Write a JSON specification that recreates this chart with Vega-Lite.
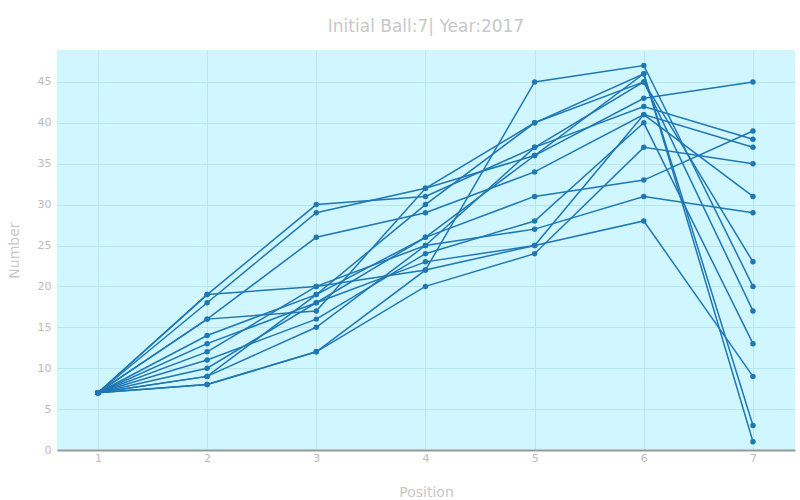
{
  "$schema": "https://vega.github.io/schema/vega-lite/v6.json",
  "autosize": "none",
  "width": 738,
  "height": 400,
  "padding": {"left": 57, "top": 50, "right": 5, "bottom": 50},
  "background": "white",
  "title": {"text": "Initial Ball:7| Year:2017", "color": "#c8c8c8", "fontSize": 17, "font": "DejaVu Sans", "fontWeight": "normal", "offset": 14},
  "config": {"view": {"fill": "#d0f7ff", "stroke": null}},
  "data": {"values": [
    {"s":"A","p":1,"v":7},{"s":"A","p":2,"v":19},{"s":"A","p":3,"v":30},{"s":"A","p":4,"v":31},{"s":"A","p":5,"v":37},{"s":"A","p":6,"v":42},{"s":"A","p":7,"v":38},
    {"s":"B","p":1,"v":7},{"s":"B","p":2,"v":18},{"s":"B","p":3,"v":29},{"s":"B","p":4,"v":32},{"s":"B","p":5,"v":36},{"s":"B","p":6,"v":46},{"s":"B","p":7,"v":3},
    {"s":"C","p":1,"v":7},{"s":"C","p":2,"v":16},{"s":"C","p":3,"v":17},{"s":"C","p":4,"v":32},{"s":"C","p":5,"v":40},{"s":"C","p":6,"v":45},{"s":"C","p":7,"v":23},
    {"s":"D","p":1,"v":7},{"s":"D","p":2,"v":19},{"s":"D","p":3,"v":20},{"s":"D","p":4,"v":22},{"s":"D","p":5,"v":45},{"s":"D","p":6,"v":47},{"s":"D","p":7,"v":20},
    {"s":"E","p":1,"v":7},{"s":"E","p":2,"v":16},{"s":"E","p":3,"v":26},{"s":"E","p":4,"v":29},{"s":"E","p":5,"v":34},{"s":"E","p":6,"v":41},{"s":"E","p":7,"v":37},
    {"s":"F","p":1,"v":7},{"s":"F","p":2,"v":14},{"s":"F","p":3,"v":19},{"s":"F","p":4,"v":30},{"s":"F","p":5,"v":40},{"s":"F","p":6,"v":46},{"s":"F","p":7,"v":1},
    {"s":"G","p":1,"v":7},{"s":"G","p":2,"v":13},{"s":"G","p":3,"v":18},{"s":"G","p":4,"v":26},{"s":"G","p":5,"v":31},{"s":"G","p":6,"v":33},{"s":"G","p":7,"v":39},
    {"s":"H","p":1,"v":7},{"s":"H","p":2,"v":12},{"s":"H","p":3,"v":20},{"s":"H","p":4,"v":25},{"s":"H","p":5,"v":27},{"s":"H","p":6,"v":31},{"s":"H","p":7,"v":29},
    {"s":"I","p":1,"v":7},{"s":"I","p":2,"v":11},{"s":"I","p":3,"v":16},{"s":"I","p":4,"v":24},{"s":"I","p":5,"v":28},{"s":"I","p":6,"v":40},{"s":"I","p":7,"v":13},
    {"s":"J","p":1,"v":7},{"s":"J","p":2,"v":10},{"s":"J","p":3,"v":18},{"s":"J","p":4,"v":23},{"s":"J","p":5,"v":25},{"s":"J","p":6,"v":28},{"s":"J","p":7,"v":9},
    {"s":"K","p":1,"v":7},{"s":"K","p":2,"v":9},{"s":"K","p":3,"v":15},{"s":"K","p":4,"v":25},{"s":"K","p":5,"v":37},{"s":"K","p":6,"v":45},{"s":"K","p":7,"v":17},
    {"s":"L","p":1,"v":7},{"s":"L","p":2,"v":8},{"s":"L","p":3,"v":12},{"s":"L","p":4,"v":20},{"s":"L","p":5,"v":24},{"s":"L","p":6,"v":37},{"s":"L","p":7,"v":35},
    {"s":"M","p":1,"v":7},{"s":"M","p":2,"v":9},{"s":"M","p":3,"v":19},{"s":"M","p":4,"v":26},{"s":"M","p":5,"v":36},{"s":"M","p":6,"v":43},{"s":"M","p":7,"v":45},
    {"s":"N","p":1,"v":7},{"s":"N","p":2,"v":8},{"s":"N","p":3,"v":12},{"s":"N","p":4,"v":22},{"s":"N","p":5,"v":25},{"s":"N","p":6,"v":41},{"s":"N","p":7,"v":31}
  ]},
  "mark": {"type": "line", "color": "#1f77b4", "strokeWidth": 1.5, "point": {"size": 30, "filled": true, "color": "#1f77b4", "opacity": 1}},
  "encoding": {
    "detail": {"field": "s"},
    "x": {"field": "p", "type": "quantitative", "title": "Position",
      "scale": {"domain": [0.625, 7.385], "nice": false, "zero": false},
      "axis": {"values": [1,2,3,4,5,6,7], "gridColor": "#b8e6ee", "domainColor": "#999999", "domainWidth": 2, "ticks": false,
        "labelColor": "#bbbbbb", "labelFont": "DejaVu Sans", "labelFontSize": 11, "titleColor": "#c8c8c8", "titleFont": "DejaVu Sans", "titleFontSize": 14, "titleFontWeight": "normal", "titlePadding": 22}},
    "y": {"field": "v", "type": "quantitative", "title": "Number",
      "scale": {"domain": [0, 48.9], "nice": false},
      "axis": {"values": [0,5,10,15,20,25,30,35,40,45], "gridColor": "#b8e6ee", "domain": false, "ticks": false, "labelPadding": 6,
        "labelColor": "#bbbbbb", "labelFont": "DejaVu Sans", "labelFontSize": 11, "titleColor": "#c8c8c8", "titleFont": "DejaVu Sans", "titleFontSize": 14, "titleFontWeight": "normal", "titlePadding": 16}}
  }
}
